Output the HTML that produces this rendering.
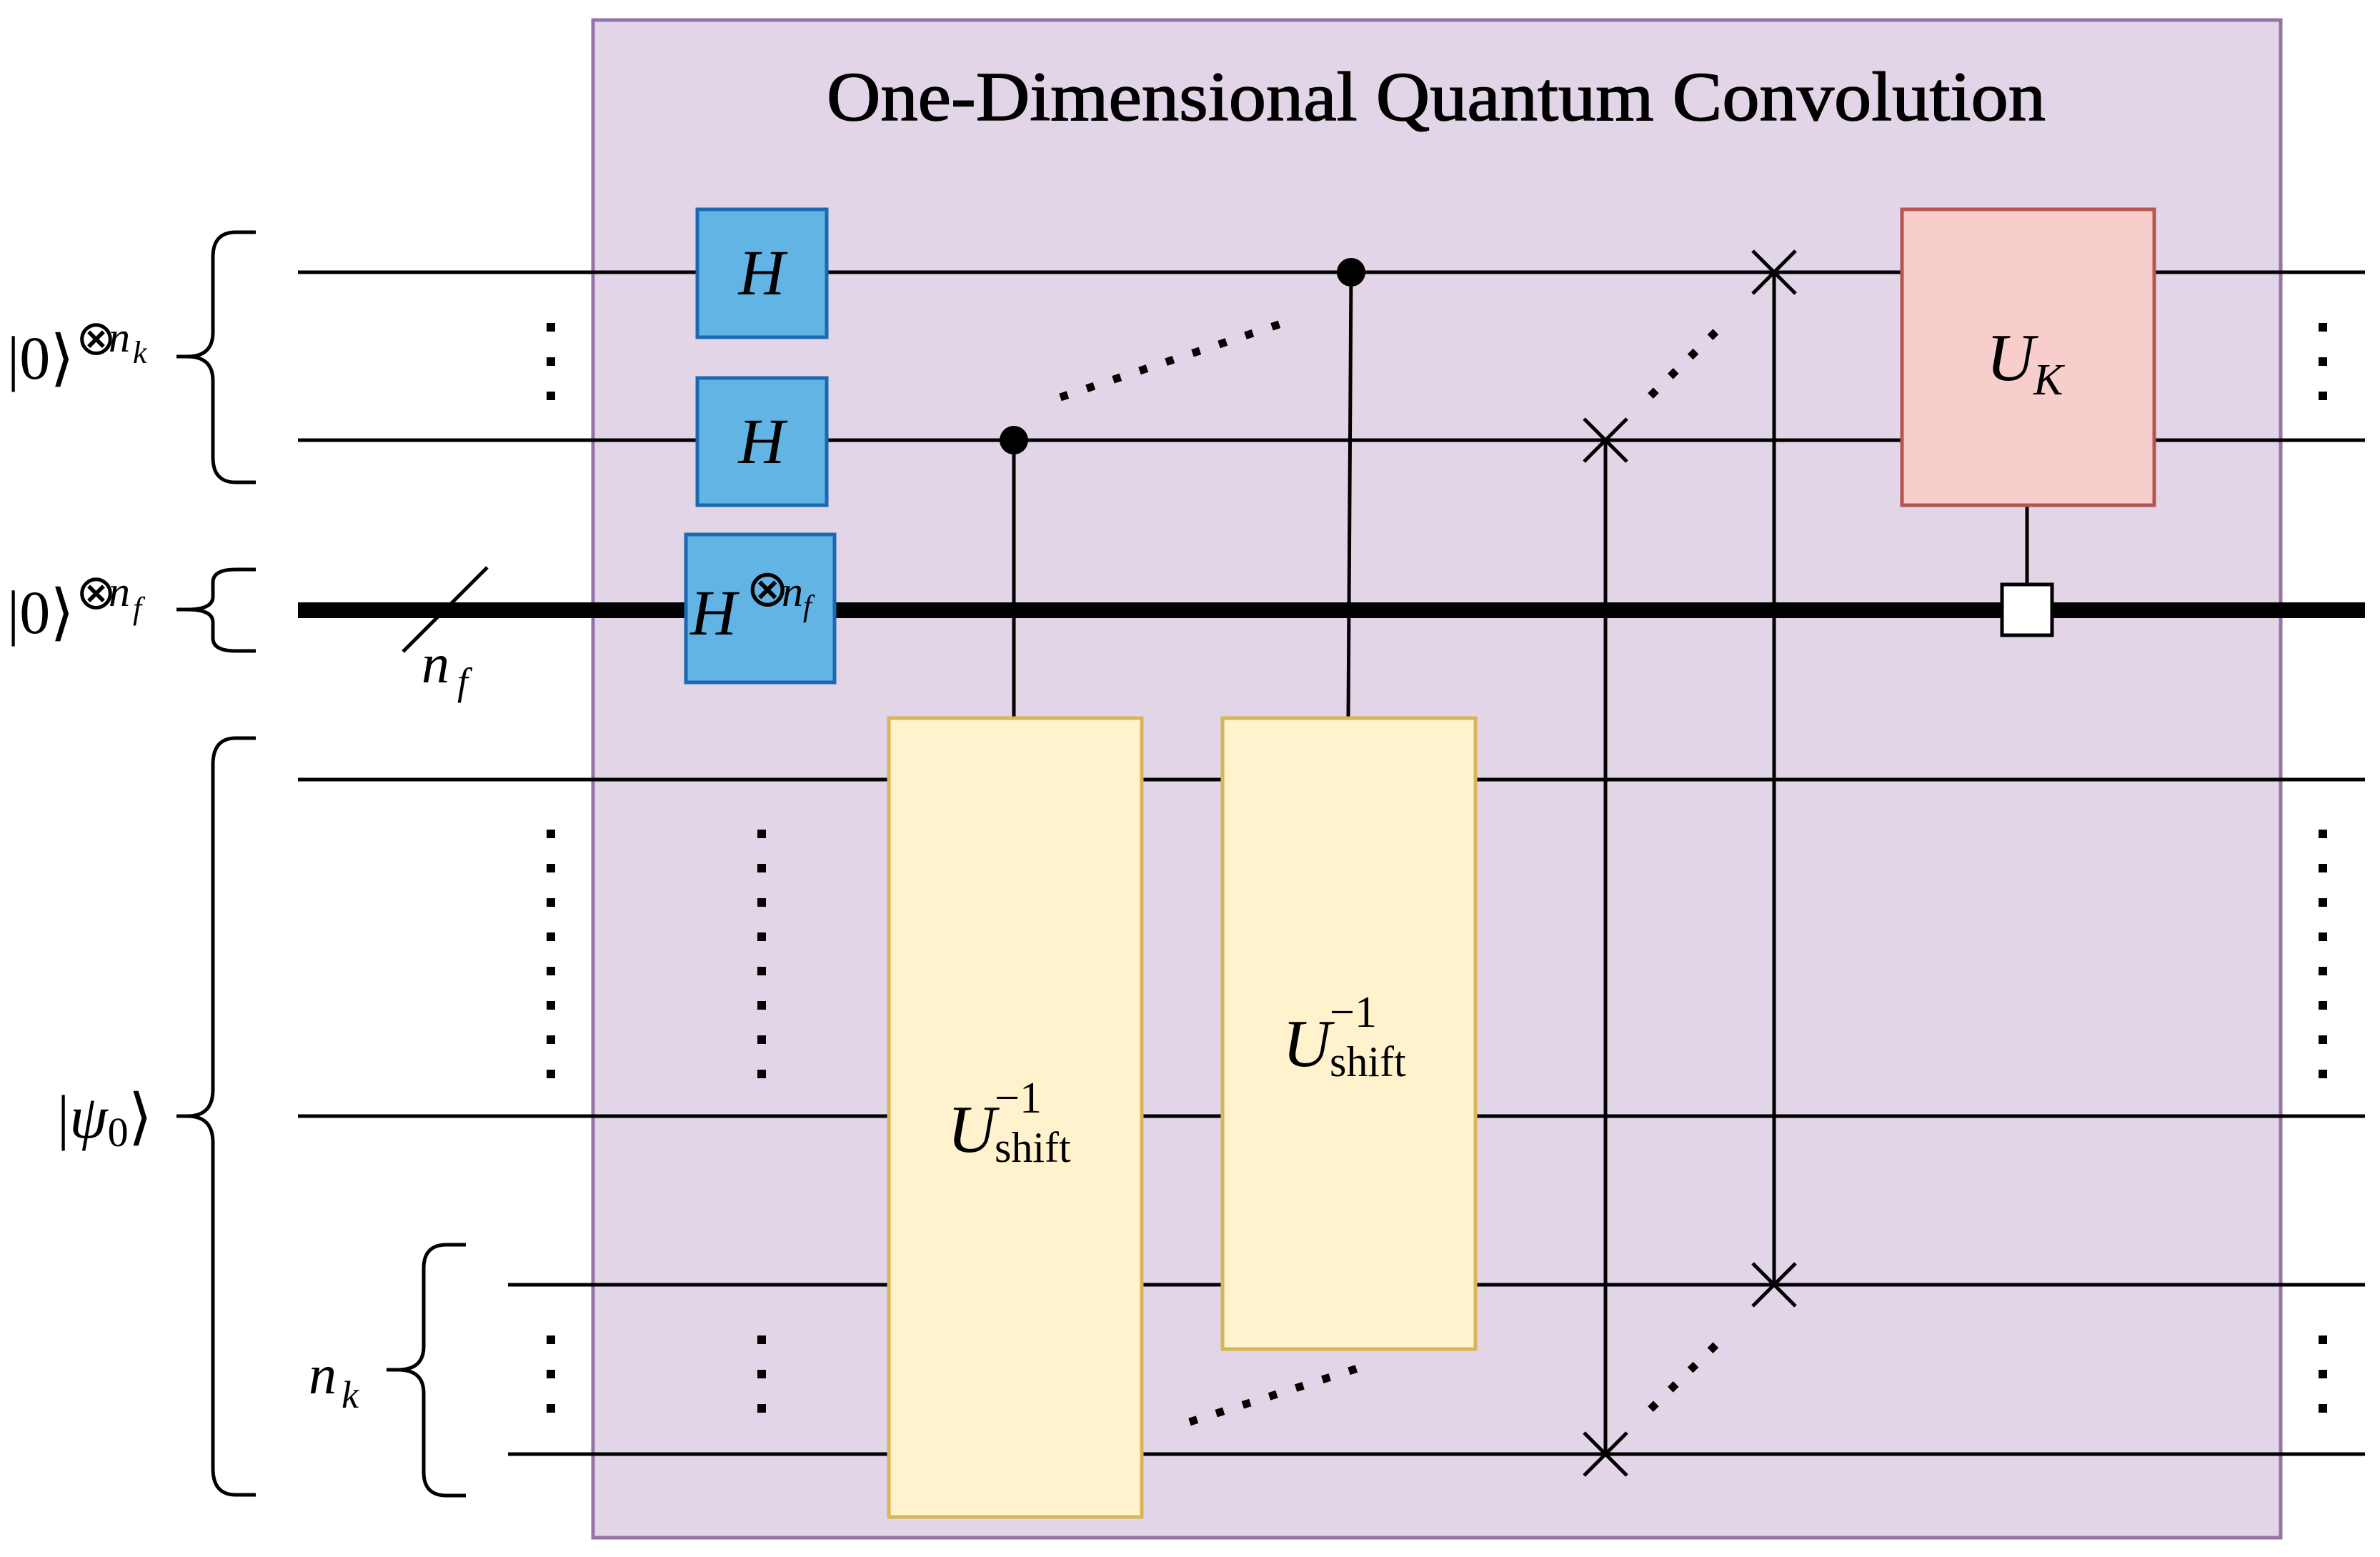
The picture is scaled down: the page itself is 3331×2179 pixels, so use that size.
<!DOCTYPE html>
<html><head><meta charset="utf-8"><style>html,body{margin:0;padding:0;background:#fff}svg{display:block}</style></head>
<body>
<svg width="3331" height="2179" viewBox="0 0 3331 2179" xmlns="http://www.w3.org/2000/svg">
<rect x="830" y="28" width="2362" height="2124" fill="#e1d5e7" stroke="#9673a6" stroke-width="5"/>
<text x="2010" y="168" font-family="Liberation Serif, serif" font-size="98" text-anchor="middle" textLength="1706" lengthAdjust="spacingAndGlyphs" stroke="#000" stroke-width="1.5">One-Dimensional Quantum Convolution</text>

<g stroke="#000" stroke-width="5" fill="none">
<line x1="417" y1="381" x2="3310" y2="381"/>
<line x1="417" y1="616" x2="3310" y2="616"/>
<line x1="417" y1="1091" x2="3310" y2="1091"/>
<line x1="417" y1="1562" x2="3310" y2="1562"/>
<line x1="711" y1="1798" x2="3310" y2="1798"/>
<line x1="711" y1="2035" x2="3310" y2="2035"/>
<line x1="417" y1="854" x2="3310" y2="854" stroke-width="22"/>
<line x1="682" y1="794" x2="564" y2="912"/>
<line x1="1419" y1="616" x2="1419" y2="1004"/>
<line x1="1891" y1="381" x2="1887" y2="1004"/>
<line x1="2247" y1="616" x2="2247" y2="2035"/>
<line x1="2483" y1="381" x2="2483" y2="1798"/>
<line x1="2837" y1="707" x2="2837" y2="817"/>
<path d="M2217 586L2277 646M2277 586L2217 646"/>
<path d="M2217 2005L2277 2065M2277 2005L2217 2065"/>
<path d="M2453 351L2513 411M2513 351L2453 411"/>
<path d="M2453 1768L2513 1828M2513 1768L2453 1828"/>
<path d="M358 325 H330 Q298 325 298 360 V465 Q298 499 262 499 H247 M262 499 Q298 499 298 533 V640 Q298 675 330 675 H358"/>
<path d="M358 797 H330 Q298 797 298 815 V835 Q298 853 262 853 H247 M262 853 Q298 853 298 871 V893 Q298 911 330 911 H358"/>
<path d="M358 1033 H330 Q298 1033 298 1070 V1525 Q298 1562 262 1562 H247 M262 1562 Q298 1562 298 1599 V2055 Q298 2092 330 2092 H358"/>
<path d="M652 1742 H625 Q593 1742 593 1775 V1884 Q593 1917 557 1917 H541 M557 1917 Q593 1917 593 1950 V2060 Q593 2093 625 2093 H652"/>
</g>
<g stroke="#000" stroke-width="11" stroke-dasharray="11 28" fill="none">
<line x1="1484" y1="556" x2="1808" y2="448"/>
<line x1="2310" y1="554" x2="2418" y2="448"/>
<line x1="1665" y1="1990" x2="1900" y2="1915"/>
<line x1="2310" y1="1972" x2="2418" y2="1866"/>
</g>
<g fill="#000">
<circle cx="1419" cy="616" r="20"/>
<circle cx="1891" cy="381" r="20"/>
</g>
<g stroke="#000" stroke-width="12" fill="none" stroke-dasharray="12 36">
<line x1="771" y1="452" x2="771" y2="566"/>
<line x1="3251" y1="452" x2="3251" y2="566"/>
<line x1="771" y1="1161" x2="771" y2="1510"/>
<line x1="1066" y1="1161" x2="1066" y2="1510"/>
<line x1="3251" y1="1161" x2="3251" y2="1510"/>
<line x1="771" y1="1869" x2="771" y2="1983"/>
<line x1="1066" y1="1869" x2="1066" y2="1983"/>
<line x1="3251" y1="1869" x2="3251" y2="1983"/>
</g>
<g stroke="#1a6ab3" stroke-width="5" fill="#62b4e4">
<rect x="976" y="293" width="181" height="179"/>
<rect x="976" y="529" width="181" height="178"/>
<rect x="960" y="748" width="208" height="207"/>
</g>
<rect x="1244" y="1005" width="354" height="1118" fill="#fff2cc" stroke="#d6b656" stroke-width="5"/>
<rect x="1711" y="1005" width="354" height="883" fill="#fff2cc" stroke="#d6b656" stroke-width="5"/>
<rect x="2662" y="293" width="353" height="414" fill="#f8cecc" stroke="#b85450" stroke-width="5"/>
<rect x="2802" y="818" width="70" height="71" fill="#fff" stroke="#000" stroke-width="5"/>

<g font-family="Liberation Serif, serif" font-style="italic" fill="#000">
<text x="1066" y="412" font-size="90" text-anchor="middle">H</text>
<text x="1066" y="648" font-size="90" text-anchor="middle">H</text>
<text x="966" y="888" font-size="90">H</text>
<text x="1044" y="848" font-size="72" font-style="normal">⊗</text><text x="1094" y="848" font-size="60">n</text><text x="1124" y="862" font-size="42">f</text>
<text x="2780" y="532" font-size="94">U</text><text x="2846" y="552" font-size="62">K</text>
<text x="1326" y="1612" font-size="94">U</text><text x="1392" y="1557" font-size="62" font-style="normal">−1</text><text x="1392" y="1626" font-size="60" font-style="normal">shift</text>
<text x="1795" y="1492" font-size="94">U</text><text x="1861" y="1437" font-size="62" font-style="normal">−1</text><text x="1861" y="1506" font-size="60" font-style="normal">shift</text>
<text x="590" y="955" font-size="78">n</text><text x="640" y="972" font-size="54">f</text>
<text x="432" y="1950" font-size="78">n</text><text x="478" y="1970" font-size="54">k</text>
</g>
<g font-family="Liberation Serif, serif" fill="#000">
<text x="10" y="530" font-size="86">|0⟩</text>
<text x="106" y="496" font-size="68">⊗</text><text x="152" y="492" font-size="60" font-style="italic">n</text><text x="186" y="508" font-size="44" font-style="italic">k</text>
<text x="10" y="886" font-size="86">|0⟩</text>
<text x="106" y="852" font-size="68">⊗</text><text x="152" y="848" font-size="60" font-style="italic">n</text><text x="186" y="866" font-size="44" font-style="italic">f</text>
<text x="80" y="1592" font-size="86">|<tspan font-style="italic">ψ</tspan><tspan font-size="58" dy="12">0</tspan><tspan dy="-12">⟩</tspan></text>
</g>
</svg>
</body></html>
